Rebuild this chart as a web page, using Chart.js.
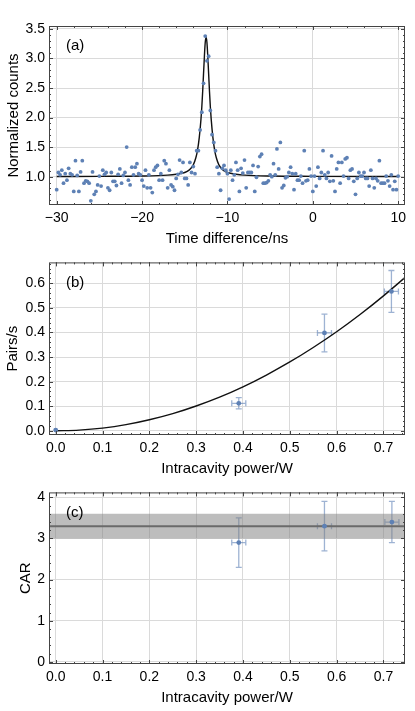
<!DOCTYPE html>
<html>
<head>
<meta charset="utf-8">
<script src="https://cdn.jsdelivr.net/npm/chart.js@4"></script>
<style>
  body { margin: 0; background: #fff; width: 415px; height: 711px; position: relative; overflow: hidden; }
  canvas { position: absolute; left: 0; }
</style>
</head>
<body>
<canvas id="chartA" width="415" height="250" style="top:0px"></canvas>
<canvas id="chartB" width="415" height="230" style="top:250px"></canvas>
<canvas id="chartC" width="415" height="231" style="top:480px"></canvas>
<script>
// (a) coincidence histogram, bins every 0.2 ns from -30 ns
const timeStart = -30, timeStep = 0.2;
const normCounts = [
  0.78,1.07,1.03,1.11,0.89,1.05,0.94,1.14,1.05,1.03,
  0.75,1.27,1.02,0.75,1.08,1.27,0.89,0.93,0.92,0.89,
  0.59,1.08,0.70,0.75,0.86,1.01,0.84,1.11,1.04,1.07,
  0.81,0.77,1.07,0.92,0.92,0.85,1.04,1.13,0.89,1.02,
  1.07,1.50,0.94,0.86,1.16,1.03,1.16,1.22,1.05,1.03,
  0.94,0.84,1.11,0.81,1.03,0.81,0.73,1.11,1.16,1.19,
  0.94,1.05,0.94,1.27,1.22,0.81,
  1.11,0.86,0.83,0.77,0.97,1.04,1.28,1.07,1.24,0.97,
  0.97,0.86,1.24,1.07,1.17,1.05,1.44,1.44,1.79,2.09,
  2.58,3.38,2.96,3.04,2.12,1.71,1.58,1.44,1.16,1.05,
  0.77,1.14,1.19,1.11,1.05,0.62,1.11,0.94,1.03,1.24,
  1.11,0.75,1.14,1.06,1.28,0.81,1.07,1.07,1.07,1.19,
  0.75,0.99,1.17,1.34,1.38,0.89,0.89,0.90,0.93,1.03,
  1.00,1.22,1.03,1.47,1.13,1.58,0.81,0.85,0.98,
  1.00,1.07,1.16,1.05,0.78,1.05,0.94,0.94,1.01,0.89,
  1.44,0.93,0.94,1.13,1.01,0.75,1.01,0.84,1.16,0.97,
  1.07,1.44,1.03,0.97,1.07,0.92,1.35,0.93,0.75,1.13,
  1.24,0.89,1.24,1.01,1.30,1.32,0.97,1.11,1.13,0.92,
  0.70,0.97,1.07,1.01,1.01,1.07,0.97,0.97,0.84,1.11,
  0.97,0.81,0.97,0.93,1.27,0.89,0.89,0.89,1.01,0.93,
  0.84,1.03,0.78,0.92,0.78,1.01
];
// fitted peak
const fitTime   = [-30,-25,-20,-17,-16,-15,-14.5,-14,-13.7,-13.5,-13.3,-13.1,-13,-12.9,-12.8,-12.7,-12.6,-12.5,
                   -12.4,-12.3,-12.2,-12.1,-12,-11.9,-11.7,-11.5,-11.3,-11,-10.5,-10,-9,-8,-5,0,10];
const fitCounts = [1.003,1.005,1.01,1.025,1.04,1.07,1.11,1.2,1.32,1.45,1.66,1.97,2.18,2.44,2.74,3.03,3.27,3.36,
                   3.27,3.03,2.74,2.44,2.18,1.97,1.66,1.45,1.32,1.2,1.11,1.07,1.04,1.025,1.01,1.005,1.003];
const timeTicks  = [-30, -20, -10, 0, 10];
const countTicks = [1.0, 1.5, 2.0, 2.5, 3.0, 3.5];

// (b) pair rate vs intracavity power
const powerW    = [0, 0.391, 0.574, 0.717];
const powerErr  = [0, 0.015, 0.015, 0.015];
const pairsRate = [0.003, 0.112, 0.398, 0.567];
const pairsErr  = [0, 0.023, 0.077, 0.085];
const fitPower  = [0,0.05,0.1,0.15,0.2,0.25,0.3,0.35,0.4,0.45,0.5,0.55,0.6,0.65,0.7,0.75];
const fitPairs  = [0,0.003,0.011,0.025,0.045,0.07,0.101,0.137,0.179,0.227,0.28,0.339,0.403,0.473,0.549,0.63];
const powerTicks = [0, 0.1, 0.2, 0.3, 0.4, 0.5, 0.6, 0.7];
const pairsTicks = [0, 0.1, 0.2, 0.3, 0.4, 0.5, 0.6];

// (c) CAR
const carPower    = [0.391, 0.574, 0.718];
const carPowerErr = [0.015, 0.015, 0.015];
const carValue    = [2.9, 3.3, 3.4];
const carErr      = [0.6, 0.6, 0.5];
const carMean = 3.3, carBandLow = 3.0, carBandHigh = 3.6;
const carTicks = [0, 1, 2, 3, 4];

const BLUE = '#5e81b5';
const ERR_BLUE = 'rgba(94,129,181,0.6)';
const GRID = '#dadada';
const FONT = '"Liberation Sans", Arial, sans-serif';

function drawErrors(chart) {
  const { ctx, scales: { x, y } } = chart;
  chart.data.datasets.forEach(ds => {
    if (!ds.yErr) return;
    ctx.save();
    ctx.strokeStyle = ERR_BLUE;
    ctx.lineWidth = 1.3;
    ctx.beginPath();
    ds.data.forEach((p, i) => {
      const ex = ds.xErr[i], ey = ds.yErr[i];
      if (!ex && !ey) return;
      const px = x.getPixelForValue(p.x), py = y.getPixelForValue(p.y);
      const x0 = x.getPixelForValue(p.x - ex), x1 = x.getPixelForValue(p.x + ex);
      const y0 = y.getPixelForValue(p.y - ey), y1 = y.getPixelForValue(p.y + ey);
      ctx.moveTo(x0, py); ctx.lineTo(x1, py);
      ctx.moveTo(x0, py - 3); ctx.lineTo(x0, py + 3);
      ctx.moveTo(x1, py - 3); ctx.lineTo(x1, py + 3);
      ctx.moveTo(px, y0); ctx.lineTo(px, y1);
      ctx.moveTo(px - 3, y0); ctx.lineTo(px + 3, y0);
      ctx.moveTo(px - 3, y1); ctx.lineTo(px + 3, y1);
    });
    ctx.stroke();
    ctx.restore();
  });
}

// frame with inward ticks on all sides + panel letter
const framePlugin = {
  id: 'frame',
  beforeDatasetsDraw(chart) { drawErrors(chart); },
  afterDatasetsDraw(chart, args, opts) {
    const { ctx, chartArea: a, scales: { x, y } } = chart;
    ctx.save();
    ctx.strokeStyle = '#444';
    ctx.lineWidth = 1;
    ctx.strokeRect(a.left + 0.5, a.top + 0.5, a.right - a.left - 1, a.bottom - a.top - 1);
    ctx.beginPath();
    const xMark = (v, len) => {
      const p = Math.round(x.getPixelForValue(v)) + 0.5;
      if (p < a.left || p > a.right) return;
      ctx.moveTo(p, a.bottom); ctx.lineTo(p, a.bottom - len);
      ctx.moveTo(p, a.top); ctx.lineTo(p, a.top + len);
    };
    const yMark = (v, len) => {
      const p = Math.round(y.getPixelForValue(v)) + 0.5;
      if (p < a.top || p > a.bottom) return;
      ctx.moveTo(a.left, p); ctx.lineTo(a.left + len, p);
      ctx.moveTo(a.right, p); ctx.lineTo(a.right - len, p);
    };
    for (let k = Math.ceil(x.min / opts.xMinor); k * opts.xMinor <= x.max; k++) xMark(k * opts.xMinor, 2);
    for (let k = Math.ceil(y.min / opts.yMinor); k * opts.yMinor <= y.max; k++) yMark(k * opts.yMinor, 2);
    x.ticks.forEach(t => xMark(t.value, 4));
    y.ticks.forEach(t => yMark(t.value, 4));
    ctx.stroke();
    ctx.fillStyle = '#000';
    ctx.font = '15px ' + FONT;
    ctx.textBaseline = 'middle';
    ctx.fillText(opts.label, a.left + 17, a.top + 20);
    ctx.restore();
  }
};

function axes(o) {
  return {
    x: {
      type: 'linear', min: o.xMin, max: o.xMax,
      afterBuildTicks: s => { s.ticks = o.xTicks.map(v => ({ value: v })); },
      afterFit: s => { s.height = o.xHeight; },
      grid: { color: GRID, drawTicks: false },
      border: { display: false },
      ticks: { color: '#000', font: { family: FONT, size: 14 }, padding: 5, maxRotation: 0, autoSkip: false, callback: o.xFmt },
      title: { display: true, text: o.xTitle, color: '#000', font: { family: FONT, size: 15 }, padding: { top: 0, bottom: o.xTitlePad } }
    },
    y: {
      type: 'linear', min: o.yMin, max: o.yMax,
      afterBuildTicks: s => { s.ticks = o.yTicks.map(v => ({ value: v })); },
      afterFit: s => { s.width = 49; },
      grid: { color: GRID, drawTicks: false },
      border: { display: false },
      ticks: { color: '#000', font: { family: FONT, size: 14 }, padding: 4, autoSkip: false, callback: o.yFmt },
      title: { display: true, text: o.yTitle, color: '#000', font: { family: FONT, size: 15 }, padding: { top: o.yTitlePad, bottom: 0 } }
    }
  };
}

const baseOptions = (scales, top, frame) => ({
  responsive: false,
  animation: false,
  layout: { padding: { top: top, right: 10, left: 0, bottom: 0 } },
  plugins: { legend: { display: false }, tooltip: { enabled: false }, frame: frame },
  scales: scales
});

const minusFmt = v => (v < 0 ? '\u2212' + Math.abs(v) : String(v));
const oneDec = v => v.toFixed(1);

// (a)
new Chart(document.getElementById('chartA'), {
  type: 'scatter',
  data: {
    datasets: [
      {
        data: normCounts.map((c, i) => ({ x: timeStart + i * timeStep, y: c })),
        backgroundColor: BLUE, pointRadius: 1.9, pointBorderWidth: 0
      },
      {
        data: fitTime.map((t, i) => ({ x: t, y: fitCounts[i] })),
        showLine: true, borderColor: '#111', borderWidth: 1.4, pointRadius: 0,
        cubicInterpolationMode: 'monotone'
      }
    ]
  },
  options: baseOptions(axes({
    xMin: -30.9, xMax: 10.8, xTicks: timeTicks, xFmt: minusFmt, xHeight: 45, xTitle: 'Time difference/ns', xTitlePad: 2,
    yMin: 0.52, yMax: 3.55, yTicks: countTicks, yFmt: oneDec, yTitle: 'Normalized counts', yTitlePad: 4.5
  }), 26, { label: '(a)', xMinor: 2, yMinor: 0.1 }),
  plugins: [framePlugin]
});

// (b)
new Chart(document.getElementById('chartB'), {
  type: 'scatter',
  data: {
    datasets: [
      {
        data: powerW.map((p, i) => ({ x: p, y: pairsRate[i] })),
        xErr: powerErr, yErr: pairsErr,
        backgroundColor: BLUE, pointRadius: 2.4, pointBorderWidth: 0
      },
      {
        data: fitPower.map((p, i) => ({ x: p, y: fitPairs[i] })),
        showLine: true, borderColor: '#111', borderWidth: 1.4, pointRadius: 0,
        cubicInterpolationMode: 'monotone'
      }
    ]
  },
  options: baseOptions(axes({
    xMin: -0.0143, xMax: 0.746, xTicks: powerTicks, xFmt: oneDec, xHeight: 45, xTitle: 'Intracavity power/W', xTitlePad: 2,
    yMin: -0.017, yMax: 0.685, yTicks: pairsTicks, yFmt: oneDec, yTitle: 'Pairs/s', yTitlePad: 4
  }), 6.7, { label: '(b)', xMinor: 0.02, yMinor: 0.02 }),
  plugins: [framePlugin]
});

// (c)
new Chart(document.getElementById('chartC'), {
  type: 'scatter',
  data: {
    datasets: [
      {
        data: carPower.map((p, i) => ({ x: p, y: carValue[i] })),
        xErr: carPowerErr, yErr: carErr,
        backgroundColor: BLUE, pointRadius: 2.4, pointBorderWidth: 0
      },
      {
        data: [{ x: -0.1, y: carMean }, { x: 0.8, y: carMean }],
        showLine: true, borderColor: '#6a6a6a', borderWidth: 2, pointRadius: 0
      },
      {
        data: [{ x: -0.1, y: carBandHigh }, { x: 0.8, y: carBandHigh }],
        showLine: true, borderWidth: 0, borderColor: 'rgba(0,0,0,0)', pointRadius: 0,
        fill: '+1', backgroundColor: 'rgba(128,128,128,0.52)'
      },
      {
        data: [{ x: -0.1, y: carBandLow }, { x: 0.8, y: carBandLow }],
        showLine: true, borderWidth: 0, borderColor: 'rgba(0,0,0,0)', pointRadius: 0
      }
    ]
  },
  options: baseOptions(axes({
    xMin: -0.0143, xMax: 0.746, xTicks: powerTicks, xFmt: oneDec, xHeight: 47, xTitle: 'Intracavity power/W', xTitlePad: 4,
    yMin: -0.05, yMax: 4.12, yTicks: carTicks, yFmt: v => String(v), yTitle: 'CAR', yTitlePad: 17
  }), 6, { label: '(c)', xMinor: 0.02, yMinor: 0.2 }),
  plugins: [framePlugin]
});
</script>
</body>
</html>
